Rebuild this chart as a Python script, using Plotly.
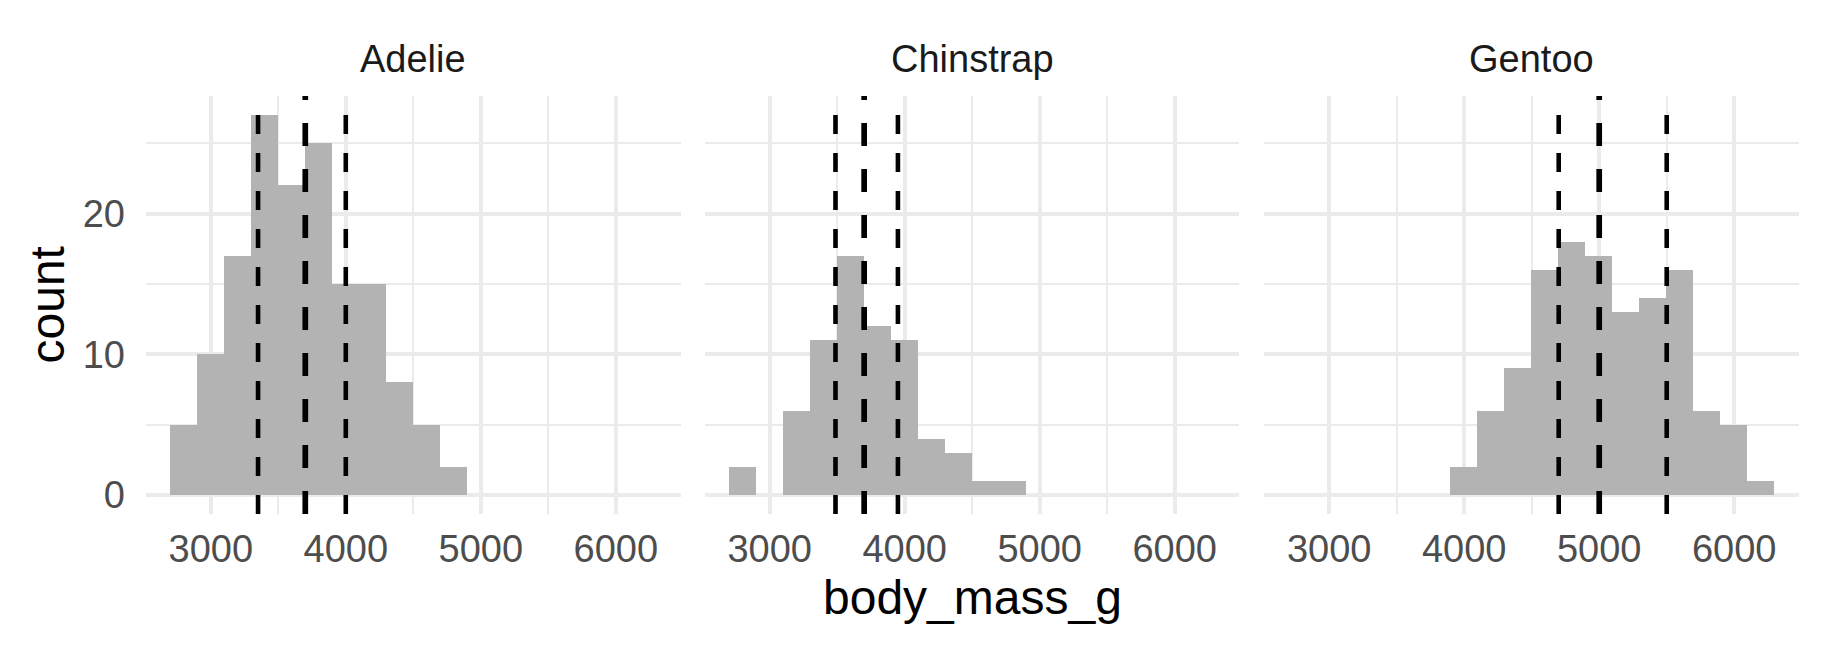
import plotly.graph_objs as go

# histogram bins (left edges, binwidth 200 g), shared by every facet
bin_lefts = [2700, 2900, 3100, 3300, 3500, 3700, 3900, 4100, 4300,
             4500, 4700, 4900, 5100, 5300, 5500, 5700, 5900, 6100]
binwidth = 200

species = ["Adelie", "Chinstrap", "Gentoo"]

adelie_counts = [5, 10, 17, 27, 22, 25, 15, 15, 8, 5, 2, 0, 0, 0, 0, 0, 0, 0]
chinstrap_counts = [2, 0, 6, 11, 17, 12, 11, 4, 3, 1, 1, 0, 0, 0, 0, 0, 0, 0]
gentoo_counts = [0, 0, 0, 0, 0, 0, 2, 6, 9, 16, 18, 17, 13, 14, 16, 6, 5, 1]

# quartiles of body mass: q25, median, q75
adelie_quart = [3350, 3700, 4000]
chinstrap_quart = [3487.5, 3700, 3950]
gentoo_quart = [4700, 5000, 5500]

x_ticks = [3000, 4000, 5000, 6000]
y_ticks = [0, 10, 20]
x_range = [2520, 6480]
y_range = [-1.35, 28.35]

counts = [adelie_counts, chinstrap_counts, gentoo_counts]
quarts = [adelie_quart, chinstrap_quart, gentoo_quart]

FONT = "Liberation Sans, Arial, Helvetica, sans-serif"
GRID = "#EBEBEB"

# panel domains (paper fraction)
domains = [[0.0, 0.3234], [0.3381, 0.6615], [0.6766, 1.0]]

fig = go.Figure()

for i, name in enumerate(species):
    sfx = "" if i == 0 else str(i + 1)
    fig.add_trace(go.Bar(
        x=bin_lefts,
        y=counts[i],
        width=binwidth,
        offset=0,
        marker=dict(color="#B3B3B3", line=dict(width=0)),
        xaxis="x" + sfx,
        yaxis="y" + sfx,
        showlegend=False,
        hoverinfo="skip",
    ))

    # dashed quartile lines, median drawn heavier
    for j, q in enumerate(quarts[i]):
        med = (j == 1)
        fig.add_shape(
            type="line",
            x0=q, x1=q, y0=0, y1=1,
            xref="x" + sfx, yref="y" + sfx + " domain",
            line=dict(color="black",
                      width=5.7 if med else 4.6,
                      dash="23px,23px" if med else "19px,19px"),
        )

    xax = dict(
        domain=domains[i],
        range=x_range,
        tickvals=x_ticks,
        showgrid=True, gridcolor=GRID, gridwidth=4.3,
        minor=dict(dtick=500, tick0=0, showgrid=True, gridcolor=GRID, gridwidth=2.1),
        zeroline=False, showline=False, ticks="",
        ticklabelstandoff=9,
        tickfont=dict(family=FONT, size=38, color="#4D4D4D"),
        anchor="y" + sfx,
        fixedrange=True,
    )
    yax = dict(
        domain=[0, 1],
        range=y_range,
        tickvals=y_ticks,
        showgrid=True, gridcolor=GRID, gridwidth=4.3,
        minor=dict(dtick=5, tick0=0, showgrid=True, gridcolor=GRID, gridwidth=2.1),
        zeroline=False, showline=False, ticks="",
        showticklabels=(i == 0),
        ticklabelstandoff=20,
        tickfont=dict(family=FONT, size=38, color="#4D4D4D"),
        anchor="x" + sfx,
        fixedrange=True,
    )
    fig.layout["xaxis" + sfx] = xax
    fig.layout["yaxis" + sfx] = yax

    # facet strip label
    fig.add_annotation(
        text=name, xref="paper", yref="paper",
        x=sum(domains[i]) / 2, y=1.0885,
        xanchor="center", yanchor="middle",
        showarrow=False,
        font=dict(family=FONT, size=38, color="#1A1A1A"),
    )

# axis titles
fig.add_annotation(
    text="body_mass_g", xref="paper", yref="paper",
    x=0.5, y=-0.199, xanchor="center", yanchor="middle", showarrow=False,
    font=dict(family=FONT, size=48, color="black"),
)
fig.add_annotation(
    text="count", xref="paper", yref="paper",
    x=-0.0596, y=0.5, xanchor="center", yanchor="middle",
    textangle=-90, showarrow=False,
    font=dict(family=FONT, size=48, color="black"),
)

# page body has an 8px default margin, so the figure is 8px smaller
fig.update_layout(
    width=1816,
    height=644,
    margin=dict(l=138, r=25, t=88, b=138),
    plot_bgcolor="white",
    paper_bgcolor="white",
    bargap=0,
    hovermode=False,
)

fig.write_html("out.html", config={"displayModeBar": False})
